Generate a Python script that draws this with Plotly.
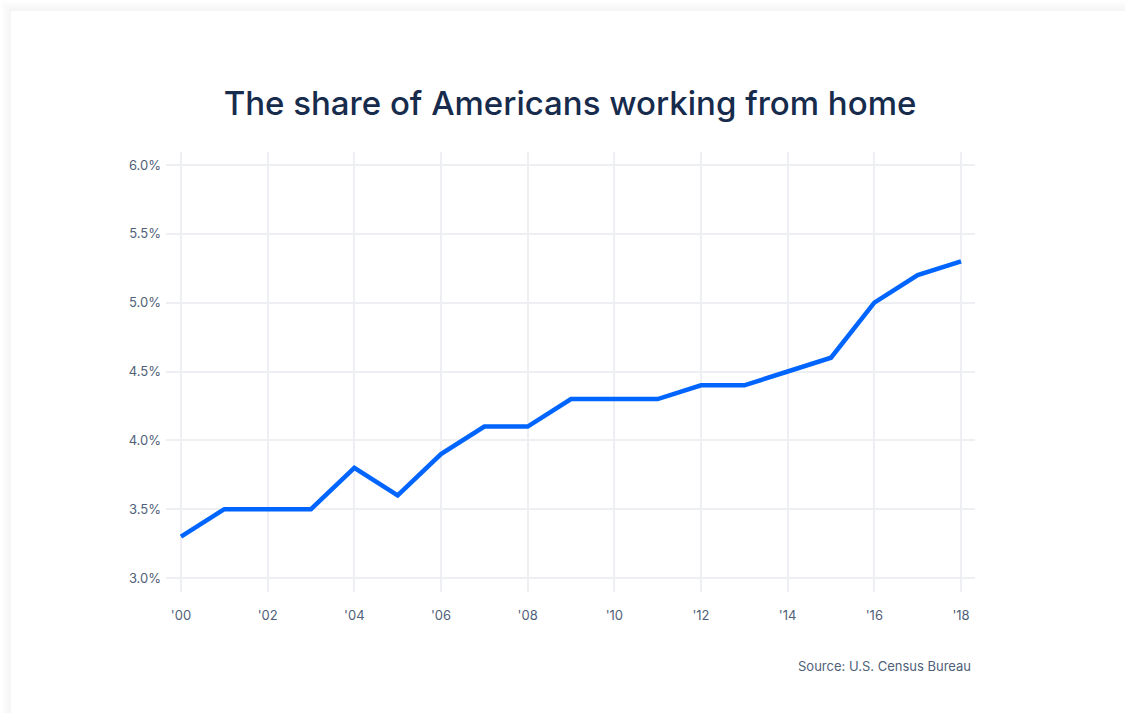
import plotly.graph_objects as go

years = list(range(2000, 2019))
share = [3.3, 3.5, 3.5, 3.5, 3.8, 3.6, 3.9, 4.1, 4.1, 4.3, 4.3, 4.3, 4.4, 4.4, 4.5, 4.6, 5.0, 5.2, 5.3]
x_tickvals = list(range(2000, 2019, 2))
x_ticktext = ["'00", "'02", "'04", "'06", "'08", "'10", "'12", "'14", "'16", "'18"]
y_tickvals = [3.0, 3.5, 4.0, 4.5, 5.0, 5.5, 6.0]
y_ticktext = ["3.0%", "3.5%", "4.0%", "4.5%", "5.0%", "5.5%", "6.0%"]
title_text = "The share of Americans working from home"
source_text = "Source: U.S. Census Bureau"

W, H = 1125, 713
L, R, T, B = 166, 150, 152, 121
pw, ph = W - L - R, H - T - B

def px_x(p):
    return (p - L) / pw

def px_y(p):
    return (H - B - p) / ph

fig = go.Figure()
fig.add_trace(go.Scatter(
    x=years, y=share, mode="lines",
    line=dict(color="#0065ff", width=4.5),
    hoverinfo="skip",
))

shapes = []
# soft shadow around the card
for k in range(1, 11):
    shapes.append(dict(
        type="rect", xref="paper", yref="paper", layer="below",
        x0=px_x(11 - k), x1=px_x(1200), y0=px_y(11 - k), y1=px_y(800),
        line=dict(width=0), fillcolor="rgba(40,45,55,0.005)",
    ))
shapes.append(dict(
    type="rect", xref="paper", yref="paper", layer="below",
    x0=px_x(11), x1=px_x(1200), y0=px_y(11), y1=px_y(800),
    line=dict(width=0), fillcolor="#ffffff",
))

fig.update_layout(
    width=W, height=H,
    margin=dict(l=L, r=R, t=T, b=B),
    paper_bgcolor="#ffffff",
    plot_bgcolor="rgba(0,0,0,0)",
    showlegend=False,
    shapes=shapes,
    title=dict(
        text=title_text,
        x=px_x(570), xref="paper", xanchor="center",
        y=1 - 103 / H, yref="container", yanchor="middle",
        font=dict(family="Inter", size=33, color="#172b4d", weight=500),
    ),
    xaxis=dict(
        range=[2000 - 15 / 43.33, 2018 + 14 / 43.33],
        tickvals=x_tickvals, ticktext=x_ticktext,
        showgrid=True, gridcolor="#eeeff3", gridwidth=2,
        zeroline=False, showline=False,
        ticks="", ticklabelstandoff=14,
        tickfont=dict(family="Inter", size=13, color="#505f79"),
        fixedrange=True,
    ),
    yaxis=dict(
        range=[3.0 - 14 / 137.6, 6.0 + 13 / 137.6],
        tickvals=y_tickvals, ticktext=y_ticktext,
        showgrid=True, gridcolor="#eeeff3", gridwidth=2,
        zeroline=False, showline=False,
        ticks="", ticklabelstandoff=4,
        tickfont=dict(family="Inter", size=13, color="#505f79"),
        fixedrange=True,
    ),
    annotations=[dict(
        text=source_text, xref="paper", yref="paper",
        x=px_x(973), y=px_y(666), xanchor="right", yanchor="middle",
        showarrow=False,
        font=dict(family="Inter", size=13, color="#505f79"),
    )],
)

fig.write_html("out.html", config={"displayModeBar": False})
